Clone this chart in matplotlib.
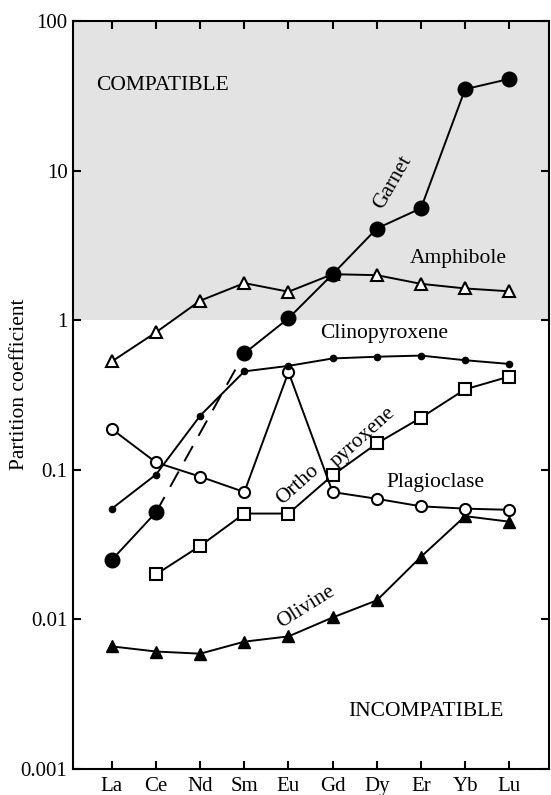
import numpy as np
import matplotlib
matplotlib.use('Agg')
import matplotlib.pyplot as plt

plt.rcParams['font.family'] = ['Liberation Serif', 'DejaVu Serif']

elements = ['La', 'Ce', 'Nd', 'Sm', 'Eu', 'Gd', 'Dy', 'Er', 'Yb', 'Lu']

garnet = [0.025, 0.052, np.nan, 0.60, 1.03, 2.03, 4.1, 5.6, 35, 41]
amphibole = [0.53, 0.83, 1.35, 1.77, 1.55, 2.03, 2.0, 1.75, 1.63, 1.56]
clinopyroxene = [0.055, 0.093, 0.23, 0.455, 0.495, 0.555, 0.57, 0.58, 0.54, 0.51]
orthopyroxene = [0.187, 0.112, 0.09, 0.071, 0.45, 0.071, 0.064, 0.057, 0.055, 0.054]
plagioclase = [np.nan, 0.020, 0.031, 0.051, 0.051, 0.092, 0.15, 0.223, 0.345, 0.42]
olivine = [0.0066, 0.0061, 0.0059, 0.0071, 0.0077, 0.0103, 0.0134, 0.0262, 0.049, 0.045]

x = np.arange(len(elements))

fig = plt.figure(figsize=(5.51, 7.95), dpi=100)
ax = fig.add_axes([0.1325, 0.0327, 0.8639, 0.9409])

ax.axhspan(1, 100, color='#e3e3e3', zorder=0, lw=0)

lw = 1.4
# olivine
ax.plot(x, olivine, '-', color='k', lw=lw, marker='^', ms=8,
        mfc='k', mec='k', zorder=3)
# plagioclase
ax.plot(x, plagioclase, '-', color='k', lw=lw, marker='s', ms=9,
        mfc='white', mec='k', mew=1.5, zorder=3)
# orthopyroxene
ax.plot(x, orthopyroxene, '-', color='k', lw=lw, marker='o', ms=8,
        mfc='white', mec='k', mew=1.5, zorder=3)
# clinopyroxene
ax.plot(x, clinopyroxene, '-', color='k', lw=lw, marker='o', ms=4.5,
        mfc='k', mec='k', zorder=3)
# amphibole
ax.plot(x, amphibole, '-', color='k', lw=lw, marker='^', ms=9,
        mfc='white', mec='k', mew=1.5, zorder=3)
# garnet: dashed between Ce and Sm (no Nd value)
g = np.array(garnet)
ax.plot(x[0:2], g[0:2], '-', color='k', lw=lw, zorder=4)
ax.plot([x[1], x[3]], [g[1], g[3]], color='k', lw=lw,
        dashes=(9, 6), zorder=4)
ax.plot(x[3:], g[3:], '-', color='k', lw=lw, zorder=4)
ax.plot(x, g, 'o', ms=10.5, mfc='k', mec='k', zorder=5)

ax.set_yscale('log')
ax.set_ylim(0.001, 100)
ax.set_xlim(-0.88, 9.9)
ax.set_xticks(x)
ax.set_xticklabels(elements)
ax.set_yticks([0.001, 0.01, 0.1, 1, 10, 100])
ax.set_yticklabels(['0.001', '0.01', '0.1', '1', '10', '100'])
ax.minorticks_off()
ax.tick_params(which='both', direction='in', top=True, right=True,
               labelsize=15, length=6, width=1.5)
ax.tick_params(axis='y', pad=4)
ax.tick_params(axis='x', pad=6)
for s in ax.spines.values():
    s.set_linewidth(1.5)
fig.text(20 / 551, 1 - 384 / 795, 'Partition coefficient', fontsize=15.5,
         rotation=90, ha='center', va='center')

fs = 15.5
ax.text(-0.35, 37, 'COMPATIBLE', fontsize=fs, va='center', ha='left')
ax.text(5.35, 0.00242, 'INCOMPATIBLE', fontsize=fs, va='center', ha='left')
ax.text(6.36, 8.3, 'Garnet', fontsize=fs, rotation=60, ha='center', va='center')
ax.text(6.74, 2.58, 'Amphibole', fontsize=fs, ha='left', va='center')
ax.text(4.71, 0.82, 'Clinopyroxene', fontsize=fs, ha='left', va='center')
ax.text(4.21, 0.079, 'Ortho', fontsize=fs, rotation=42, ha='center', va='center')
ax.text(5.68, 0.166, 'pyroxene', fontsize=fs, rotation=42, ha='center', va='center')
ax.text(6.22, 0.082, 'Plagioclase', fontsize=fs, ha='left', va='center')
ax.text(4.4, 0.012, 'Olivine', fontsize=fs, rotation=32, ha='center', va='center')

fig.savefig('out.png', dpi=100)
